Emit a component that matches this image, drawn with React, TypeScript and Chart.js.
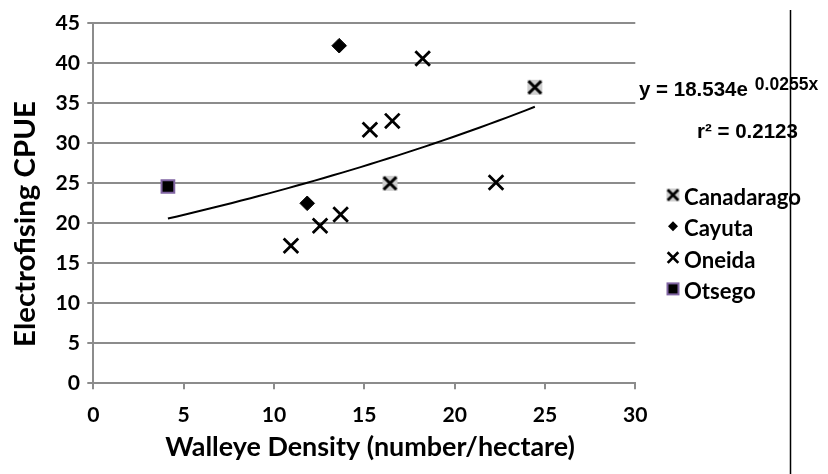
import React, { useEffect, useRef } from 'react';
import { Chart, registerables } from 'chart.js';

Chart.register(...registerables);

// ---- data ----
const SERIES_NAMES = ['Canadarago', 'Cayuta', 'Oneida', 'Otsego'];
const canadaragoX = [16.42, 24.44];
const canadaragoY = [25.0, 37.0];
const cayutaX = [11.84, 13.61];
const cayutaY = [22.5, 42.2];
const oneidaX = [10.94, 12.55, 13.69, 15.31, 16.55, 18.23, 22.29];
const oneidaY = [17.2, 19.7, 21.1, 31.7, 32.8, 40.6, 25.1];
const otsegoX = [4.13];
const otsegoY = [24.6];
const TREND_A = 18.534;
const TREND_B = 0.0255;
const EQ_MAIN = 'y = 18.534e';
const EQ_EXP = '0.0255x';
const R2_LABEL = 'r\u00B2 = 0.2123';
const X_TITLE = 'Walleye Density (number/hectare)';
const Y_TITLE = 'Electrofising CPUE';
const X_MIN = 0, X_MAX = 30, X_STEP = 5;
const Y_MIN = 0, Y_MAX = 45, Y_STEP = 5;

const zip = (xs: number[], ys: number[]) => xs.map((x, i) => ({ x, y: ys[i] }));

function fitSize(text: string, family: string, weight: string, target: number) {
  const c = document.createElement('canvas').getContext('2d')!;
  c.font = `${weight} 100px ${family}`;
  return (100 * target) / c.measureText(text).width;
}

function makeCanadaragoMarker(box: number, half: number, lw: number) {
  const s = Math.ceil(box + 6);
  const cv = document.createElement('canvas');
  cv.width = s; cv.height = s;
  const g = cv.getContext('2d')!;
  const c = s / 2;
  g.fillStyle = '#cfcfcf';
  g.fillRect(c - box / 2, c - box / 2, box, box);
  g.strokeStyle = '#000';
  g.lineWidth = lw;
  g.beginPath();
  g.moveTo(c - half, c - half); g.lineTo(c + half, c + half);
  g.moveTo(c + half, c - half); g.lineTo(c - half, c + half);
  g.stroke();
  return cv;
}

const GRID = '#8c8c8c';
const FONT = 'Lato, "Open Sans", sans-serif';

export default function App() {
  const ref = useRef<HTMLCanvasElement>(null);

  useEffect(() => {
    const canvas = ref.current!;
    const tickSize = fitSize('45', FONT, 'bold', 24.5);
    const legendSize = fitSize('Canadarago', FONT, 'bold', 117);
    const xTitleSize = fitSize(X_TITLE, FONT, 'bold', 410);
    const yTitleSize = fitSize(Y_TITLE, FONT, 'bold', 246);

    const canMarker = makeCanadaragoMarker(15, 6.3, 3);
    const canLegend = makeCanadaragoMarker(13, 5.3, 2.7);

    const allX = [...canadaragoX, ...cayutaX, ...oneidaX, ...otsegoX];
    const tx0 = Math.min(...allX);
    const tx1 = Math.max(...allX);
    const trend: { x: number; y: number }[] = [];
    const N = 40;
    for (let i = 0; i <= N; i++) {
      const x = tx0 + ((tx1 - tx0) * i) / N;
      trend.push({ x, y: TREND_A * Math.exp(TREND_B * x) });
    }

    const overlay = {
      id: 'overlay',
      afterDraw(chart: any) {
        const ctx = chart.ctx as CanvasRenderingContext2D;
        ctx.save();
        ctx.fillStyle = '#000';
        // axis titles
        ctx.font = `bold ${yTitleSize}px ${FONT}`;
        ctx.save();
        ctx.translate(26, 224);
        ctx.rotate(-Math.PI / 2);
        ctx.textAlign = 'center';
        ctx.textBaseline = 'middle';
        ctx.fillText(Y_TITLE, 0, 0);
        ctx.restore();
        ctx.font = `bold ${xTitleSize}px ${FONT}`;
        ctx.textAlign = 'center';
        ctx.textBaseline = 'alphabetic';
        ctx.fillText(X_TITLE, 370, 456);

        // legend
        const lx = 673;
        ctx.textAlign = 'left';
        ctx.font = `bold ${legendSize}px ${FONT}`;
        SERIES_NAMES.forEach((name, i) => {
          const y = 195 + i * 31.3;
          if (i === 0) {
            ctx.drawImage(canLegend, lx - canLegend.width / 2, y - canLegend.height / 2);
          } else if (i === 1) {
            const r = 5;
            ctx.beginPath();
            ctx.moveTo(lx, y - r); ctx.lineTo(lx + r, y); ctx.lineTo(lx, y + r); ctx.lineTo(lx - r, y);
            ctx.closePath();
            ctx.fillStyle = '#000';
            ctx.fill();
          } else if (i === 2) {
            const h = 5.3;
            ctx.strokeStyle = '#000';
            ctx.lineWidth = 2.7;
            ctx.beginPath();
            ctx.moveTo(lx - h, y - h); ctx.lineTo(lx + h, y + h);
            ctx.moveTo(lx + h, y - h); ctx.lineTo(lx - h, y + h);
            ctx.stroke();
          } else {
            const s = 11;
            ctx.fillStyle = '#000';
            ctx.fillRect(lx - s / 2, y - s / 2, s, s);
            ctx.strokeStyle = '#8064A2';
            ctx.lineWidth = 2;
            ctx.strokeRect(lx - s / 2, y - s / 2, s, s);
          }
          ctx.fillStyle = '#000';
          ctx.fillText(name, 684, y + 10);
        });

        // equation
        ctx.font = 'bold 20.5px "Liberation Sans", Arial, sans-serif';
        ctx.textAlign = 'left';
        ctx.fillText(EQ_MAIN, 639, 96);
        const w = ctx.measureText(EQ_MAIN).width;
        ctx.font = 'bold 17.5px "Liberation Sans", Arial, sans-serif';
        ctx.fillText(EQ_EXP, 639 + w + 7, 90);
        ctx.font = 'bold 20.5px "Liberation Sans", Arial, sans-serif';
        ctx.fillText(R2_LABEL, 697, 137.7);

        // vertical rule
        ctx.strokeStyle = '#000';
        ctx.lineWidth = 1.5;
        ctx.beginPath();
        ctx.moveTo(790.5, 10);
        ctx.lineTo(790.5, 474);
        ctx.stroke();
        ctx.restore();
      },
    };

    const tickFont = { family: FONT, weight: 'bold' as const, size: tickSize };

    const chart = new Chart(canvas, {
      type: 'scatter',
      data: {
        datasets: [
          {
            label: SERIES_NAMES[0],
            data: zip(canadaragoX, canadaragoY),
            pointStyle: canMarker as any,
            pointRadius: 8,
          },
          {
            label: SERIES_NAMES[1],
            data: zip(cayutaX, cayutaY),
            pointStyle: 'rectRot',
            pointRadius: 7.3,
            backgroundColor: '#000',
            borderColor: '#000',
            borderWidth: 1,
          },
          {
            label: SERIES_NAMES[2],
            data: zip(oneidaX, oneidaY),
            pointStyle: 'crossRot',
            pointRadius: 10.3,
            borderColor: '#000',
            borderWidth: 2.8,
          },
          {
            label: SERIES_NAMES[3],
            data: zip(otsegoX, otsegoY),
            pointStyle: 'rect',
            pointRadius: 9,
            backgroundColor: '#000',
            borderColor: '#8064A2',
            borderWidth: 2,
          },
          {
            label: 'Trend',
            data: trend,
            showLine: true,
            pointRadius: 0,
            borderColor: '#000',
            borderWidth: 2,
            tension: 0,
            fill: false,
          } as any,
        ],
      },
      options: {
        responsive: false,
        devicePixelRatio: 1,
        animation: false,
        events: [],
        layout: { padding: { top: 23.3, right: 192.7, left: 0, bottom: 0 } },
        plugins: { legend: { display: false }, tooltip: { enabled: false } },
        scales: {
          x: {
            type: 'linear',
            min: X_MIN,
            max: X_MAX,
            ticks: { stepSize: X_STEP, font: tickFont, color: '#000', padding: 13, maxRotation: 0, autoSkip: false },
            grid: { drawOnChartArea: false, drawTicks: true, tickLength: 6, color: GRID, lineWidth: 2 },
            border: { display: true, color: GRID, width: 2 },
            afterFit: (s: any) => { s.height = 474 - 383.3; },
          },
          y: {
            type: 'linear',
            min: Y_MIN,
            max: Y_MAX,
            ticks: { stepSize: Y_STEP, font: tickFont, color: '#000', padding: 7.3, autoSkip: false },
            grid: { drawTicks: true, tickLength: 6, color: GRID, lineWidth: 2 },
            border: { display: true, color: GRID, width: 2 },
            afterFit: (s: any) => { s.width = 93.3; },
          },
        },
      },
      plugins: [overlay],
    });
    return () => chart.destroy();
  }, []);

  return (
    <div style={{ position: 'fixed', left: 0, top: 0, width: 828, height: 474, background: '#fff' }}>
      <canvas ref={ref} width={828} height={474} style={{ display: 'block', width: 828, height: 474 }} />
    </div>
  );
}
